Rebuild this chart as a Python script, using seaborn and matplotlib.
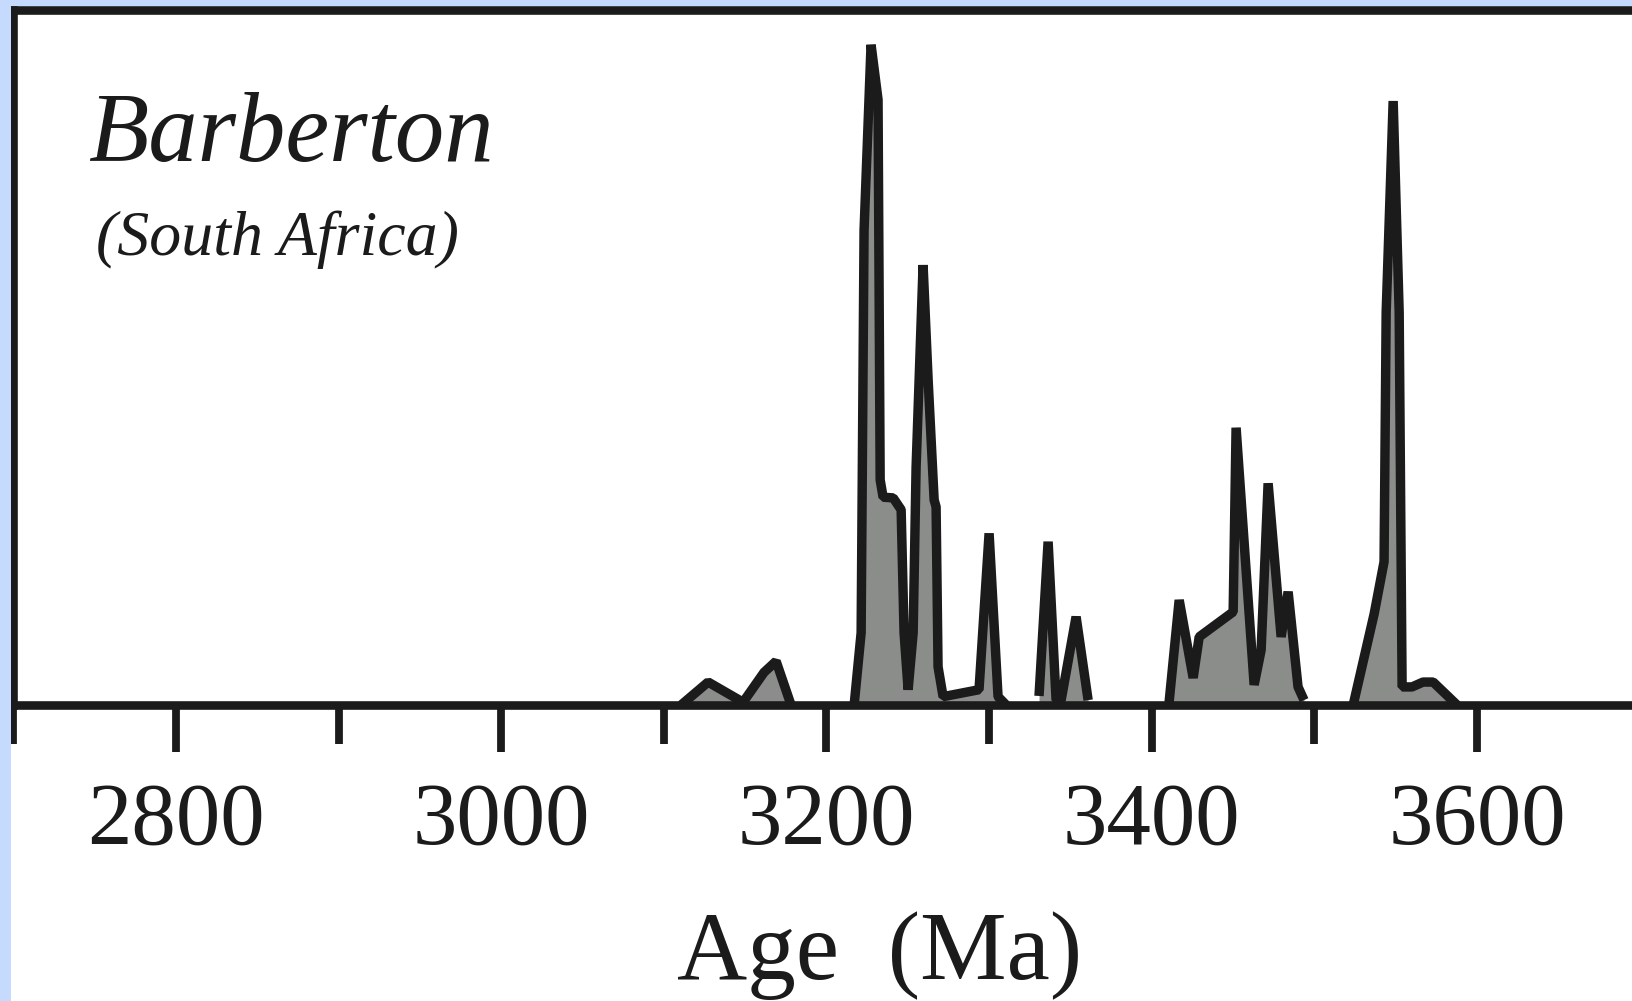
import numpy as np
import pandas as pd
import matplotlib
matplotlib.use("Agg")
import matplotlib.pyplot as plt
from matplotlib.patches import Rectangle
from matplotlib.ticker import FixedLocator
import seaborn as sns

# Relative probability of zircon ages (Ma), one outline per age cluster
ages_a = [3110.6, 3127.2, 3148.7, 3161.6, 3169.0, 3178.2]
prob_a = [0.0, 3.3, 0.4, 4.7, 6.3, 0.0]

ages_b = [3217.0, 3221.3, 3223.1, 3227.4, 3231.7, 3233.0, 3234.8, 3241.0,
          3245.9, 3247.7, 3250.2, 3253.3, 3255.1, 3259.4, 3262.5, 3266.2,
          3267.4, 3268.6, 3271.7, 3293.8, 3300.0, 3305.5, 3310.5]
prob_b = [0.0, 10.4, 68.3, 95.0, 87.1, 32.4, 29.9, 29.8,
          28.1, 10.4, 2.2, 10.4, 34.2, 63.3, 46.8, 29.5,
          28.5, 5.5, 1.2, 2.2, 24.7, 1.2, 0.0]

ages_c = [3330.7, 3336.3, 3341.2, 3344.3, 3353.5, 3360.9]
prob_c = [1.3, 23.5, 0.7, 0.7, 12.7, 0.7]

ages_d = [3410.7, 3416.9, 3425.5, 3429.2, 3450.1, 3451.9, 3463.0,
          3467.3, 3471.6, 3479.6, 3483.9, 3490.0, 3493.7]
prob_d = [0.4, 15.1, 3.9, 9.8, 13.4, 39.9, 2.9,
          7.9, 31.9, 9.8, 16.3, 2.6, 0.7]

ages_e = [3523.9, 3536.8, 3542.9, 3544.2, 3548.5, 3552.2, 3554.0,
          3560.1, 3566.9, 3573.1, 3587.8]
prob_e = [0.0, 13.1, 20.6, 56.5, 86.9, 56.5, 2.6,
          2.6, 3.3, 3.3, 0.0]

major_ticks = [2800, 3000, 3200, 3400, 3600]
minor_ticks = [2700, 2900, 3100, 3300, 3500]
tick_labels = ["2800", "3000", "3200", "3400", "3600"]

title_text = "Barberton"
subtitle_text = "(South Africa)"
xlabel_text = "Age  (Ma)"

clusters = [(ages_a, prob_a), (ages_b, prob_b), (ages_c, prob_c),
            (ages_d, prob_d), (ages_e, prob_e)]
df = pd.concat(
    [pd.DataFrame({"age": a, "prob": p, "cluster": i})
     for i, (a, p) in enumerate(clusters)],
    ignore_index=True,
)

sns.set_theme(style="white")
plt.rcParams["font.family"] = ["Liberation Serif", "DejaVu Serif"]

INK = "#1b1b1b"
FILL = "#8b8d8b"
BLUE = "#c6dafd"

W, H = 1633, 1001
PX_PER_MA = 1.626
LEFT_PX = 13.5
fig = plt.figure(figsize=(W / 100, H / 100), dpi=100, facecolor="white")
ax = fig.add_axes([LEFT_PX / W, 296 / H, (W - LEFT_PX) / W, 695 / H])
ax.set_facecolor("white")

# grey fill under each cluster
for a, p in clusters:
    ax.fill_between(a, p, 0, color=FILL, lw=0, zorder=1)

# black outlines
sns.lineplot(data=df, x="age", y="prob", units="cluster", estimator=None,
             color=INK, lw=6.8, ax=ax, legend=False,
             solid_joinstyle="bevel", solid_capstyle="butt", zorder=2)

ax.set_xlim(2700, 2700 + (W - LEFT_PX) / PX_PER_MA)
ax.set_ylim(0, 100)
ax.set_ylabel("")

for side in ("top", "left", "bottom"):
    ax.spines[side].set_visible(True)
    ax.spines[side].set_color(INK)
    ax.spines[side].set_linewidth(6.2)
    ax.spines[side].set_zorder(3)
ax.spines["right"].set_visible(False)

ax.xaxis.set_major_locator(FixedLocator(major_ticks))
ax.xaxis.set_minor_locator(FixedLocator(minor_ticks))
ax.set_xticklabels(tick_labels)
ax.tick_params(axis="x", which="major", direction="out", length=34, width=5.6,
               color=INK, labelsize=64, labelcolor=INK, pad=21, bottom=True)
ax.tick_params(axis="x", which="minor", direction="out", length=28, width=5.6,
               color=INK, bottom=True)
ax.tick_params(axis="y", left=False, labelleft=False)

ax.set_xlabel(xlabel_text, fontsize=70, color=INK)
ax.xaxis.label.set_va("baseline")
ax.xaxis.set_label_coords((880 - LEFT_PX) / (W - LEFT_PX), (705 - 979) / 695)

fig.text(88 / W, 1 - 161 / H, title_text, fontsize=71, style="italic",
         color=INK, ha="left", va="baseline")
fig.text(96 / W, 1 - 255 / H, subtitle_text, fontsize=46, style="italic",
         color=INK, ha="left", va="baseline")

# light blue frame along the left and top edges
fig.add_artist(Rectangle((0, 0), 11.5 / W, 1, transform=fig.transFigure,
                         color=BLUE, lw=0, zorder=10))
fig.add_artist(Rectangle((0, 1 - 6 / H), 1, 6 / H, transform=fig.transFigure,
                         color=BLUE, lw=0, zorder=10))

fig.savefig("out.png", dpi=100, facecolor="white")
